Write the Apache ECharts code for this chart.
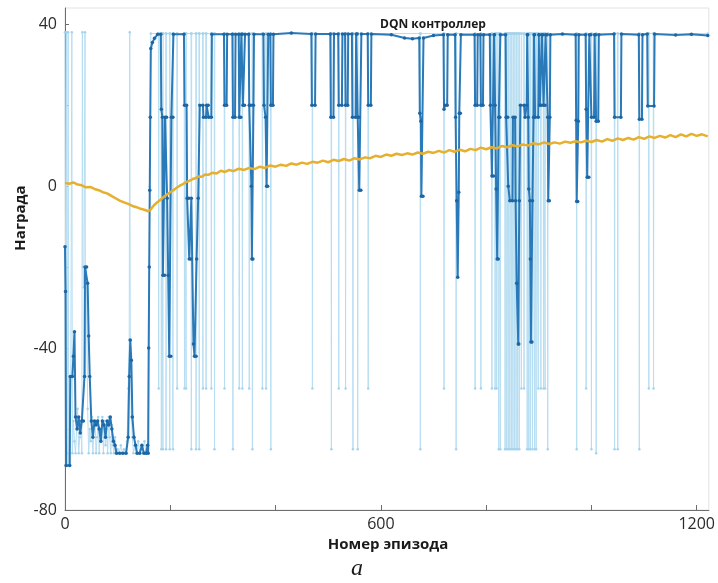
<!DOCTYPE html>
<html>
<head>
<meta charset="utf-8">
<script src="https://cdn.jsdelivr.net/npm/echarts@6/dist/echarts.min.js"></script>
<style>
  html, body { margin: 0; padding: 0; background: #fff; }
  #chart { width: 718px; height: 583px; }
</style>
</head>
<body>
<div id="chart"></div>
<script>
// episode reward, first episodes (before learning kicks in)
const lightEarly = [
  [0,38],[1,-15],[2,-69],[3,38],[4,-69],[5,-66],[6,38],[7,-69],[9,-62],[11,-47],[13,38],[14,-66],
  [16,-58],[18,-63],[20,-66],[22,-60],[24,-55],[26,-66],[28,-62],[30,-58],[32,-66],[33,38],[34,-20],
  [36,-25],[38,38],[39,-47],[41,-20],[43,-55],[45,-66],[47,-60],[49,-63],[51,-57],[53,-66],[55,-60],
  [57,-58],[59,-66],[61,-62],[63,-57],[65,-66],[67,-60],[69,-63],[71,-57],[73,-66],[75,-58],[77,-64],
  [79,-60],[81,-66],[83,-57],[85,-62],[87,-66],[89,-59],[91,-64],[93,-66],[95,-62],[97,-66],[100,-65],
  [103,-66],[106,-64],[109,-66],[112,-65],[115,-66],[118,-63],[120,-50],[122,-38],[123,38],[124,-40],
  [126,-57],[128,-62],[130,-66],[133,-64],[136,-66],[139,-63],[142,-66],[145,-65],[148,-66],[151,-63],
  [154,-66],[157,-64],[159,-40],[160,-20],[161,0],[162,17],[163,37.7]
];
// after learning: reward sits near the top, with failed episodes dropping down
const lightTop = 37.7;
const lightSpikeEp = [
  178,183,186,192,199,205,213,227,230,240,249,255,262,268,278,284,303,319,331,337,350,356,375,382,391,
  470,506,520,533,547,556,576,675,720,743,779,790,811,817,820,824,827,
  836,839,842,845,848,851,854,857,860,863,867,872,878,881,884,888,892,895,899,904,909,912,917,
  972,990,1000,1009,1044,1050,1091,1109,1118
];
const lightSpikeLow = [
  -50,-65,-65,-65,-65,-65,-50,-50,-50,-65,-65,-65,-50,-50,-50,-65,-50,-65,-50,-50,-50,-65,-50,-50,-65,
  -50,-65,-50,-50,-65,-65,-50,-65,-50,-65,-50,-50,-50,-50,-50,-65,-65,
  -65,-65,-65,-65,-65,-65,-65,-65,-65,-65,-50,-50,-65,-65,-65,-65,-65,-65,-50,-50,-50,-50,-65,
  -65,-50,-65,-66,-65,-65,-65,-50,-50
];
const lastEpisode = 1221;

// average reward
const avgReward = [
  [0,-15],[1,-26],[2,-69],[9,-69],[10,-47],[14,-47],[16,-42],[18,-36],[20,-57],[23,-60],[26,-57],[29,-61],
  [32,-58],[35,-58],[37,-47],[38,-20],[41,-20],[43,-24],[45,-37],[47,-47],[50,-58],[53,-62],[56,-58],
  [59,-59],[62,-58],[65,-60],[68,-63],[71,-58],[74,-59],[77,-62],[80,-58],[83,-59],[86,-57],[89,-60],
  [92,-63],[95,-64],[98,-66],[104,-66],[110,-66],[116,-66],[120,-62],[122,-47],[124,-38],[126,-43],
  [128,-57],[131,-62],[134,-64],[137,-66],[142,-66],[146,-64],[150,-66],[154,-66],[157,-64],[158,-66],
  [159,-40],[160,-20],[161,-1],[162,17],[163,34],[166,35.5],[170,36.5],[176,37.5],
  [182,37.5],[183,19],[185,17],[186,-22],[189,-22],[190,17],[193,17],[194,-3],[196,-22],[198,-42],
  [201,-42],[202,17],[205,17],[206,37.5],
  [226,37.5],[227,20],[231,20],[232,-3],[235,-3],[236,-18],[239,-18],[240,-3],[244,-39],[246,-42],
  [249,-42],[250,-18],[253,-3],[256,20],[262,20],[263,17],[268,17],[269,20],[272,20],[273,17],[278,17],
  [279,37.5],
  [302,37.5],[303,20],[307,20],[308,37.5],
  [318,37.5],[319,17],[323,17],[324,37.5],
  [330,37.5],[331,17],[334,17],[335,37.5],[337,37.5],[338,20],[341,20],[342,37.5],
  [349,37.5],[350,20],[353,20],[354,0],[355,-18],[357,-18],[358,20],[359,37.5],
  [377,37.5],[378,20],[381,17],[383,0],[385,0],[386,37.5],
  [390,37.5],[391,20],[395,20],[396,37.5],[430,37.8],
  [468,37.6],[469,20],[475,20],[476,37.6],
  [504,37.6],[505,17],[510,17],[511,37.6],
  [519,37.6],[520,20],[526,20],[527,37.6],
  [532,37.6],[533,20],[537,20],[538,37.6],
  [545,37.6],[546,17],[552,17],[553,37.6],
  [555,37.6],[556,17],[558,17],[559,-1],[562,-1],[563,37.6],
  [575,37.6],[576,20],[581,20],[582,37.6],
  [620,37.4],[645,36.6],[660,36.4],[673,36.6],[674,18],[676,16],[677,-2.5],[680,-2.5],[681,36.6],
  [700,37.2],
  [719,37.4],[720,19],[722,20],[726,20],[727,37.4],
  [741,37.4],[742,17],[744,-3.6],[746,-22.5],[748,-1.5],[749,18],[751,18],[752,37.4],
  [778,37.4],[779,20],[783,20],[784,37.4],
  [789,37.4],[790,20],[794,20],[795,37.4],
  [807,37.4],[808,20],[811,2.5],[814,2.5],[815,37.4],
  [816,37.4],[817,20],[819,-0.7],[821,-18],[823,-18],[824,17],[826,17],[827,37.4],
  [837,37.4],[838,17],[841,17],[842,0],[845,-3.6],[850,-3.6],[851,17],[855,17],[856,-3.6],[858,-24],
  [861,-39],[862,-39],[863,-3.6],[865,20],[872,20],[874,17],[877,20],[878,37.4],
  [879,37.4],[880,17],[881,-0.7],[883,-3.6],[884,-18],[885,-38.5],[887,-38.5],[888,-3.6],[890,17],[891,37.4],
  [892,37.4],[893,17],[899,17],[900,37.4],
  [901,37.4],[902,20],[905,20],[906,37.4],[908,37.4],[909,20],[912,20],[913,37.4],
  [916,37.4],[917,17],[918,-3.6],[920,-3.6],[921,17],[922,37.4],
  [945,37.6],[970,37.4],[971,16.3],[972,-3.8],[974,-3.8],[975,16],[976,37.4],
  [989,37.4],[990,19],[992,2.2],[995,2.2],[996,37.4],
  [999,37.4],[1000,17],[1005,17],[1006,37.4],
  [1008,37.4],[1009,16],[1013,16],[1014,37.4],
  [1043,37.6],[1044,17],[1056,17],[1057,37.6],
  [1090,37.4],[1091,16.5],[1096,16.5],[1097,37.4],
  [1106,37.6],[1107,19.8],[1119,19.8],[1120,37.6],
  [1160,37.3],[1190,37.5],[1221,37.2]
];

// episode Q0
const q0Ep = [
  0,8,16,24,32,40,48,56,64,72,80,88,96,104,112,120,128,136,144,152,158,162,166,170,176,182,188,194,200,
  206,212,218,224,230,236,242,248,254,260,266,272,280,288,296,304,312,320,330,340,350,360,370,380,390,
  400,410,420,430,440,450,460,470,480,490,500,510,520,530,540,550,560,570,580,590,600,610,620,630,640,
  650,660,670,680,690,700,710,720,730,740,750,760,770,780,790,800,810,820,830,840,850,860,870,880,890,
  900,910,920,930,940,950,960,970,980,990,1000,1010,1020,1030,1040,1050,1060,1070,1080,1090,1100,1110,
  1120,1130,1140,1150,1160,1170,1180,1190,1200,1210,1221
];
const q0Val = [
  0.8,0.6,0.9,0.4,0.2,-0.3,-0.2,-0.7,-1.0,-1.5,-1.8,-2.4,-3.0,-3.6,-4.0,-4.4,-4.9,-5.2,-5.6,-5.9,-6.2,-5.9,
  -5.2,-4.6,-3.9,-3.3,-2.6,-2.0,-1.5,-1.0,-0.4,0.1,0.5,1.0,1.3,1.7,2.0,2.4,2.3,2.9,2.8,3.3,3.1,3.8,3.5,
  4.0,3.7,4.3,4.0,4.5,4.2,4.8,4.5,5.1,4.8,5.3,5.0,5.6,5.3,5.8,5.5,6.0,5.8,6.3,5.9,6.5,6.2,6.7,6.3,6.9,
  6.6,7.1,6.9,7.5,7.2,7.8,7.5,8.0,7.7,8.1,7.8,8.3,8.0,8.5,8.2,8.7,8.3,8.9,8.5,9.0,8.6,9.2,8.9,9.5,9.1,
  9.6,9.3,9.9,9.6,10.1,9.8,10.3,10.0,10.6,10.3,10.8,10.4,10.8,10.5,11.0,10.7,11.1,10.8,11.2,10.9,11.4,
  11.0,11.6,11.2,11.8,11.4,11.9,11.5,12.1,11.7,12.3,11.9,12.4,12.0,12.6,12.1,12.8,12.3,12.9,12.4,12.8,12.3
];

const xTicks = [0, 200, 400, 600, 800, 1000, 1200];
const xLabels = [0, 600, 1200];
const yTicks = [-80, -60, -40, -20, 0, 20, 40];
const yLabels = [-80, -40, 0, 40];

// build episode reward line
let episodeReward = lightEarly.slice();
for (let i = 0; i < lightSpikeEp.length; i++) {
  let e = lightSpikeEp[i];
  episodeReward.push([e - 0.6, lightTop]);
  episodeReward.push([e, lightSpikeLow[i]]);
  episodeReward.push([e + 0.6, lightTop]);
}
episodeReward.push([lastEpisode, lightTop]);

let q0Data = [];
for (let i = 0; i < q0Ep.length; i++) q0Data.push([q0Ep[i], q0Val[i]]);

let myChart = echarts.init(document.getElementById('chart'));

let option = {
  animation: false,
  backgroundColor: '#fff',
  grid: {
    left: 65, right: 7, top: 8, bottom: 73,
    show: true, borderColor: '#e2e2e2', borderWidth: 1
  },
  xAxis: {
    type: 'value', min: 0, max: 1223,
    axisLine: { onZero: false, lineStyle: { color: '#6e6e6e', width: 1 } },
    axisTick: { inside: true, length: 5, customValues: xTicks, lineStyle: { color: '#6e6e6e' } },
    axisLabel: { customValues: xLabels, formatter: v => String(v), fontSize: 16, color: '#2b2b2b', margin: 6, fontFamily: 'Open Sans' },
    splitLine: { show: false }
  },
  yAxis: {
    type: 'value', min: -80, max: 44,
    axisLine: { show: true, lineStyle: { color: '#6e6e6e', width: 1 } },
    axisTick: { show: true, inside: true, length: 4, customValues: yTicks, lineStyle: { color: '#6e6e6e' } },
    axisLabel: { customValues: yLabels, formatter: v => String(v), fontSize: 16, color: '#2b2b2b', margin: 8, fontFamily: 'Open Sans' },
    splitLine: { show: false }
  },
  graphic: [
    { type: 'text', left: 380, top: 19, style: { text: 'DQN контроллер', font: 'bold 12px "Open Sans"', fill: '#1a1a1a', align: 'center', verticalAlign: 'middle' } },
    { type: 'text', x: 388, y: 545, style: { text: 'Номер эпизода', font: 'bold 15px "Open Sans"', fill: '#1a1a1a', align: 'center', verticalAlign: 'middle' } },
    { type: 'text', x: 21, y: 218, rotation: Math.PI / 2, style: { text: 'Награда', font: 'bold 15px "Open Sans"', fill: '#1a1a1a', align: 'center', verticalAlign: 'middle' } },
    { type: 'text', x: 357, y: 569, style: { text: 'a', font: 'italic 24px "Liberation Serif"', fill: '#1a1a1a', align: 'center', verticalAlign: 'middle' } }
  ],
  series: [
    {
      name: 'Episode Reward', type: 'line', data: episodeReward,
      symbol: 'circle', symbolSize: 2.5, showAllSymbol: true,
      itemStyle: { color: '#a6d3ec' },
      lineStyle: { color: '#b7def2', width: 1 },
      z: 1
    },
    {
      name: 'Average Reward', type: 'line', data: avgReward,
      symbol: 'circle', symbolSize: 3.5, showAllSymbol: true,
      itemStyle: { color: '#1d66a4' },
      lineStyle: { color: '#2a79b8', width: 2 },
      z: 2
    },
    {
      name: 'Episode Q0', type: 'line', data: q0Data,
      showSymbol: false,
      lineStyle: { color: '#e6b02e', width: 2.5 },
      z: 3
    }
  ]
};

myChart.setOption(option);
</script>
</body>
</html>
